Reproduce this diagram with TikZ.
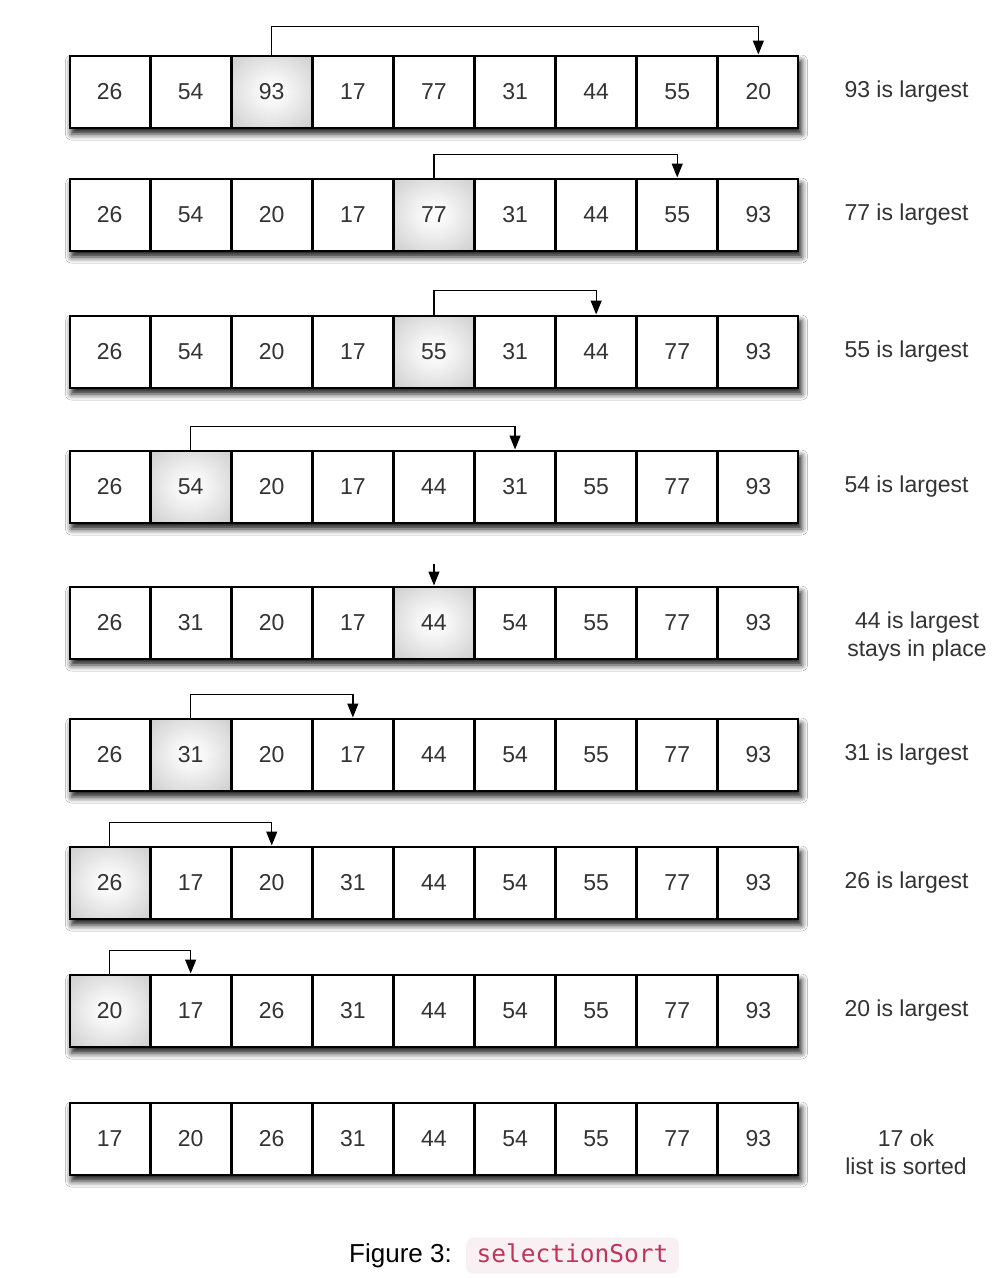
\documentclass[tikz,border=0pt]{standalone}
\usepackage{fontspec}
\setmainfont{Liberation Sans}
\setmonofont{DejaVu Sans Mono}
\usetikzlibrary{arrows.meta,shadows.blur}

\definecolor{textgray}{HTML}{333333}
\definecolor{codered}{HTML}{C0345A}
\definecolor{codebg}{HTML}{F8F0F3}

\pgfdeclareradialshading{cellglow}{\pgfpoint{0bp}{0bp}}{%
  color(0bp)=(white); color(10bp)=(white!96!black);
  color(40bp)=(black!22); color(71bp)=(black!32)}

\tikzset{
  cell/.style={draw=black, line width=2pt, fill=white, minimum width=80.1pt,
    minimum height=72pt, inner sep=0pt, text=textgray,
    font=\fontsize{23}{27}\selectfont},
  bigcell/.style={cell, shading=cellglow},
  swap/.style={draw=black, line width=1.3pt, -{Triangle[length=14pt,width=11pt]}},
  note/.style={text=textgray, align=center, font=\fontsize{23}{28}\selectfont},
}

% name, top edge, index of largest, values
\newcommand{\cellrow}[4]{
\path[blur shadow={shadow xshift=2.5pt, shadow yshift=-6pt,
  shadow blur radius=6pt, shadow opacity=90}]
  (69,{-#2}) rectangle (799,{-#2-73});
\foreach \v [count=\i] in {#4}{
  \ifnum\i=#3
    \node[bigcell] (#1-\i) at ({69+(\i-0.5)*81.1},{-#2-36.5}) {\v};
  \else
    \node[cell] (#1-\i) at ({69+(\i-0.5)*81.1},{-#2-36.5}) {\v};
  \fi
}
}

\begin{document}
\begin{tikzpicture}[x=1pt, y=1pt]
\useasboundingbox[fill=white] (0,0) rectangle (1006,-1278);

\cellrow{r1}{55}{3}{26,54,93,17,77,31,44,55,20}
\cellrow{r2}{178}{5}{26,54,20,17,77,31,44,55,93}
\cellrow{r3}{315}{5}{26,54,20,17,55,31,44,77,93}
\cellrow{r4}{450}{2}{26,54,20,17,44,31,55,77,93}
\cellrow{r5}{586}{5}{26,31,20,17,44,54,55,77,93}
\cellrow{r6}{718}{2}{26,31,20,17,44,54,55,77,93}
\cellrow{r7}{846}{1}{26,17,20,31,44,54,55,77,93}
\cellrow{r8}{974}{1}{20,17,26,31,44,54,55,77,93}
\cellrow{r9}{1102}{0}{17,20,26,31,44,54,55,77,93}

% swaps
\draw[swap] (r1-3.north) -- ++(0,28) -| (r1-9.north);
\draw[swap] (r2-5.north) -- ++(0,23) -| (r2-8.north);
\draw[swap] (r3-5.north) -- ++(0,24) -| (r3-7.north);
\draw[swap] (r4-2.north) -- ++(0,23) -| (r4-6.north);
\coordinate (stay) at ([yshift=22pt]r5-5.north);
\draw[swap] (stay) -- (r5-5.north);
\draw[swap] (r6-2.north) -- ++(0,23) -| (r6-4.north);
\draw[swap] (r7-1.north) -- ++(0,23) -| (r7-3.north);
\draw[swap] (r8-1.north) -- ++(0,23) -| (r8-2.north);

% notes
\node[note, anchor=west] (n1) at (841,-91.5) {93 is largest};
\node[note, anchor=west] (n2) at (841,-214.5) {77 is largest};
\node[note, anchor=west] (n3) at (841,-351.5) {55 is largest};
\node[note, anchor=west] (n4) at (841,-486.5) {54 is largest};
\node[note] (n5) at (917,-637) {44 is largest\\stays in place};
\node[note, anchor=west] (n6) at (841,-754.5) {31 is largest};
\node[note, anchor=west] (n7) at (841,-882.5) {26 is largest};
\node[note, anchor=west] (n8) at (841,-1010.5) {20 is largest};
\node[note] (n9) at (906,-1152) {17 ok\\list is sorted};

% caption
\node[anchor=base west, inner sep=0pt, font=\fontsize{26}{30}\selectfont]
  (fig) at (349,-1262) {Figure 3:};
\node[anchor=base west, fill=codebg, rounded corners=7pt, text=codered,
  inner xsep=10.5pt, inner ysep=6.5pt, text height=18pt, text depth=5pt,
  font=\ttfamily\fontsize{24.5}{28}\selectfont]
  (code) at (466,-1262) {selectionSort};
\end{tikzpicture}
\end{document}
